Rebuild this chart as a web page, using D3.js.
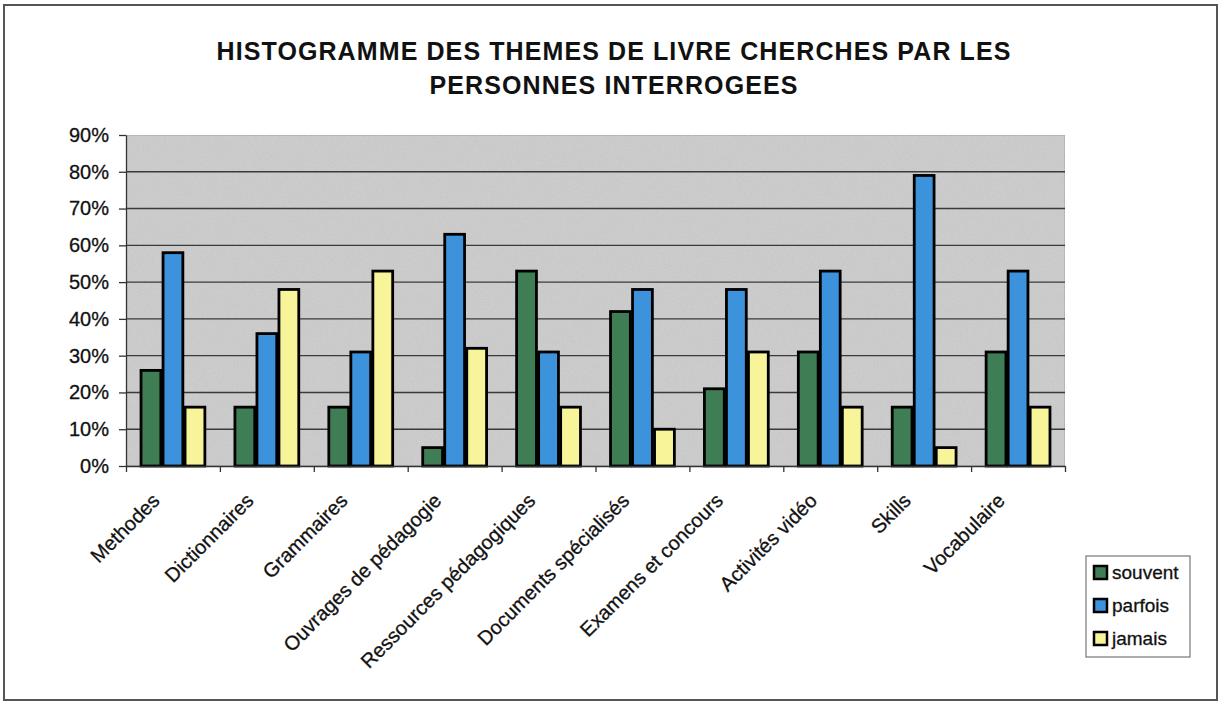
<!DOCTYPE html>
<html>
<head>
<meta charset="utf-8">
<script src="https://cdn.jsdelivr.net/npm/d3@7"></script>
<style>
  body { margin: 0; background: #fff; }
  text { font-family: Arial, "Liberation Sans", sans-serif; }
</style>
</head>
<body>
<div id="chart"></div>
<script>
var categories = ["Methodes", "Dictionnaires", "Grammaires", "Ouvrages de pédagogie",
  "Ressources pédagogiques", "Documents spécialisés", "Examens et concours",
  "Activités vidéo", "Skills", "Vocabulaire"];
var seriesNames = ["souvent", "parfois", "jamais"];
var souvent = [26, 16, 16, 5, 53, 42, 21, 31, 16, 31];
var parfois = [58, 36, 31, 63, 31, 48, 48, 53, 79, 53];
var jamais  = [16, 48, 53, 32, 16, 10, 31, 16, 5, 16];
var yTicks = [0, 10, 20, 30, 40, 50, 60, 70, 80, 90];
var colors = ["#3f7d55", "#3d92dc", "#f8f49a"];

var W = 1220, H = 702;
var margin = {top: 135, left: 126, right: 155, bottom: 236};
var width = W - margin.left - margin.right,
    height = H - margin.top - margin.bottom;

var svg = d3.select("#chart").append("svg")
  .attr("width", W).attr("height", H);

// speckled grey texture for the plot area
var defs = svg.append("defs");
var f = defs.append("filter").attr("id", "grain").attr("x", 0).attr("y", 0).attr("width", 1).attr("height", 1);
f.append("feTurbulence").attr("type", "fractalNoise").attr("baseFrequency", 1.2).attr("numOctaves", 1).attr("seed", 3).attr("result", "n");
f.append("feColorMatrix").attr("in", "n").attr("type", "matrix")
  .attr("values", "0 0 0 0 0.55  0 0 0 0 0.55  0 0 0 0 0.55  1.8 0 0 0 -0.65").attr("result", "g");
f.append("feComposite").attr("in", "g").attr("in2", "SourceGraphic").attr("operator", "in").attr("result", "g2");
f.append("feMerge").selectAll("feMergeNode").data(["SourceGraphic", "g2"]).enter()
  .append("feMergeNode").attr("in", function(d) { return d; });

// outer frame
svg.append("rect")
  .attr("x", 4).attr("y", 5).attr("width", W - 7).attr("height", H - 7)
  .attr("fill", "none").attr("stroke", "#555").attr("stroke-width", 2);

// title
var title = svg.append("text")
  .attr("text-anchor", "middle")
  .attr("font-size", "25px").attr("font-weight", "bold").attr("fill", "#111")
  .attr("letter-spacing", "1.1px");
title.append("tspan").attr("x", 614).attr("y", 60).text("HISTOGRAMME DES THEMES DE LIVRE CHERCHES PAR LES");
title.append("tspan").attr("x", 614).attr("y", 94).text("PERSONNES INTERROGEES");

var g = svg.append("g").attr("transform", "translate(" + margin.left + "," + margin.top + ")");

var x0 = d3.scaleBand().domain(categories).range([0, width]).paddingInner(0.32).paddingOuter(0.16);
var x1 = d3.scaleBand().domain(seriesNames).range([0, x0.bandwidth()]).paddingInner(0.1);
var y = d3.scaleLinear().domain([0, 90]).range([height, 0]);
var xTick = d3.scaleLinear().domain([0, categories.length]).range([0, width]);

g.append("rect")
  .attr("width", width).attr("height", height)
  .attr("fill", "#cdcdcd").attr("stroke", "#a8a8a8").attr("stroke-width", 1.5)
  .attr("filter", "url(#grain)");

// gridlines
g.selectAll(".grid").data(yTicks.slice(1, -1)).enter().append("line")
  .attr("x1", 0).attr("x2", width)
  .attr("y1", function(d) { return y(d); }).attr("y2", function(d) { return y(d); })
  .attr("stroke", "#3a3a3a").attr("stroke-width", 1.4);

// bars
var table = categories.map(function(c, i) {
  return {cat: c, vals: [souvent[i], parfois[i], jamais[i]]};
});
var groups = g.selectAll(".grp").data(table).enter().append("g")
  .attr("transform", function(d) { return "translate(" + x0(d.cat) + ",0)"; });
groups.selectAll("rect").data(function(d) {
    return d.vals.map(function(v, j) { return {s: seriesNames[j], v: v, j: j}; });
  }).enter().append("rect")
  .attr("x", function(d) { return x1(d.s); })
  .attr("y", function(d) { return y(d.v); })
  .attr("width", x1.bandwidth())
  .attr("height", function(d) { return height - y(d.v); })
  .attr("fill", function(d) { return colors[d.j]; })
  .attr("stroke", "#000").attr("stroke-width", 2.8);

// y axis
var yAxis = g.append("g")
  .call(d3.axisLeft(y).tickValues(yTicks).tickFormat(function(d) { return d + "%"; }).tickSize(7).tickSizeOuter(0));
yAxis.selectAll("text").attr("font-size", "20px").attr("fill", "#111").attr("x", -17)
  .attr("stroke", "#111").attr("stroke-width", 0.3);
yAxis.selectAll("line, path").attr("stroke", "#333").attr("stroke-width", 1.3);

// x axis
var xAxis = g.append("g").attr("transform", "translate(0," + height + ")")
  .call(d3.axisBottom(xTick).tickValues(d3.range(categories.length + 1)).tickFormat("").tickSize(6).tickSizeOuter(0));
xAxis.selectAll("line, path").attr("stroke", "#333").attr("stroke-width", 1.3);

g.selectAll(".xlab").data(categories).enter().append("text")
  .attr("font-size", "20px").attr("fill", "#111")
  .attr("stroke", "#111").attr("stroke-width", 0.3)
  .attr("text-anchor", "end")
  .attr("transform", function(d) {
    return "translate(" + (x0(d) + x0.bandwidth() / 2 - 12) + "," + (height + 36) + ") rotate(-45)";
  })
  .text(function(d) { return d; });

// legend
var lg = svg.append("g").attr("transform", "translate(1086,556)");
lg.append("rect").attr("width", 104).attr("height", 101)
  .attr("fill", "#fff").attr("stroke", "#777").attr("stroke-width", 1.2);
seriesNames.forEach(function(s, i) {
  var row = lg.append("g").attr("transform", "translate(0," + (17 + i * 33) + ")");
  row.append("rect").attr("x", 8).attr("y", -7).attr("width", 13).attr("height", 13)
    .attr("fill", colors[i]).attr("stroke", "#000").attr("stroke-width", 2.5);
  row.append("text").attr("x", 26).attr("y", 6).attr("font-size", "19px").attr("fill", "#111")
    .attr("stroke", "#111").attr("stroke-width", 0.3).text(s);
});
</script>
</body>
</html>
